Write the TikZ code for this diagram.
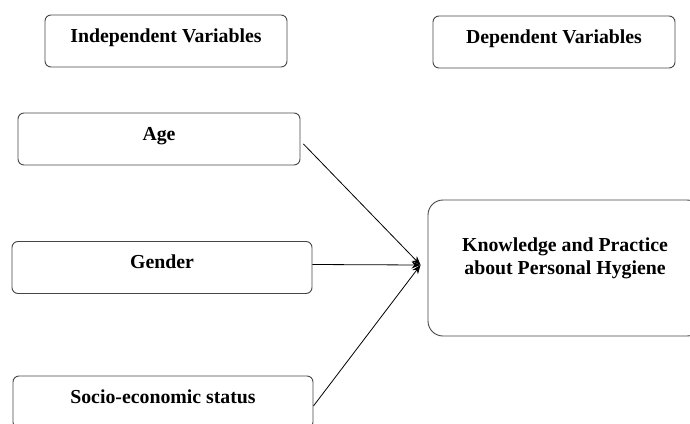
\documentclass[tikz,border=0pt]{standalone}
\usepackage{fontspec}
\setmainfont{Liberation Serif}
\usepackage{tikz}
\usetikzlibrary{calc,arrows.meta}
\definecolor{boxgray}{RGB}{70,70,70}
\tikzset{%
    varbox/.style={%
        draw=boxgray, line width=0.9pt, rounded corners=6pt,
        inner sep=0pt, text height=27pt, text depth=25pt,
        font=\fontsize{19.8}{23.5}\selectfont\bfseries
    },
    bigbox/.style={%
        draw=boxgray, line width=0.9pt, rounded corners=15pt,
        inner sep=0pt, minimum width=274pt, minimum height=136pt
    }
}

\begin{document}
\begin{tikzpicture}[x=1pt,y=-1pt]
    \useasboundingbox (0,0) rectangle (690,423);
    \node[varbox, minimum width=242pt] (indep) at (166,41) {Independent Variables};
    \node[varbox, minimum width=242pt] (dep) at (554,42) {Dependent Variables};
    \node[varbox, minimum width=282pt] (age) at (159,139) {Age};
    \node[varbox, minimum width=300pt] (gender) at (162,267.5) {Gender};
    \node[varbox, minimum width=300pt] (socio) at (163,402) {Socio-economic status};
    \node[bigbox] (kp) at (565,268) {};
    \node[align=center, font=\fontsize{19.8}{23.5}\selectfont\bfseries] (kptext) at (565,258.5)
        {Knowledge and Practice\\about Personal Hygiene};
    \coordinate (tip) at ($(kp.west)+(-7,-3)$);
    \draw[->,line width=0.8pt,>={Stealth[length=9pt,width=7pt]}] ($(age.east)+(3,5)$) -- (tip);
    \draw[->,line width=0.8pt,>={Stealth[length=9pt,width=7pt]}] ($(gender.east)+(0,-3)$) -- (tip);
    \draw[->,line width=0.8pt,>={Stealth[length=9pt,width=7pt]}] ($(socio.east)+(0,4)$) -- (tip);
\end{tikzpicture}
\end{document}
